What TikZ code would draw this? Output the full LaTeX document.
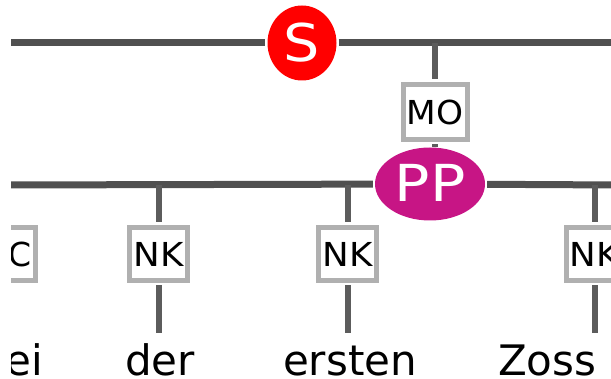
\documentclass[tikz,border=0pt]{standalone}
\usepackage{fontspec}
\usepackage{graphicx}
\setmainfont{DejaVu Sans}
\usetikzlibrary{shapes.geometric}
\definecolor{linegray}{RGB}{80,80,80}
\definecolor{conngray}{RGB}{92,92,92}
\definecolor{boxgray}{RGB}{176,176,176}
\definecolor{ppmag}{RGB}{199,21,133}
\begin{document}
\begin{tikzpicture}[x=1pt,y=-1pt,
  bar/.style={draw=linegray, line width=7pt},
  conn/.style={draw=conngray, line width=6pt},
  catS/.style={ellipse, fill=red, text=white, minimum width=69pt, minimum height=75pt, inner sep=0pt, font=\fontsize{52}{52}\selectfont},
  catPP/.style={ellipse, fill=ppmag, text=white, minimum width=110pt, minimum height=73pt, inner sep=0pt, font=\fontsize{51}{51}\selectfont},
  edgebox/.style={rectangle, draw=boxgray, line width=5pt, fill=white, minimum height=53pt, inner sep=0pt, font=\fontsize{33}{33}\selectfont},
  word/.style={inner sep=0pt, text height=32pt, text depth=3pt, font=\fontsize{42}{42}\selectfont}
]
\useasboundingbox (0,0) rectangle (611,379);
\clip (11,0) rectangle (611,379);

% category nodes
\node[catS] (S) at (302,43) {\raisebox{2pt}{\scalebox{1.1}[1]{S}}};
\node[edgebox, minimum width=64pt, minimum height=55pt] (MO) at (435,112) {\scalebox{1.04}[1]{MO}};
\node[catPP] (PP) at (430,184) {\raisebox{2pt}{\scalebox{1.15}[1]{PP}}};

% edge label boxes
\node[edgebox, minimum width=58pt, inner xsep=4pt, text width=50pt, align=right] (C) at (6.5,254) {C};
\node[edgebox, minimum width=58pt] (NK1) at (158.5,254) {\scalebox{1.08}[1]{NK}};
\node[edgebox, minimum width=58pt] (NK2) at (347.5,254) {\scalebox{1.08}[1]{NK}};
\node[edgebox, minimum width=58pt] (NK3) at (595,254) {\scalebox{1.08}[1]{NK}};

% words
\node[word, anchor=base east] (w0) at (43,376) {ei};
\node[word, anchor=base] (w1) at (160,376) {der};
\node[word, anchor=base] (w2) at (350,376) {ersten};
\node[word, anchor=base west] (w3) at (498,376) {Zoss};

% bar coordinates
\coordinate (l1) at (0,43);
\coordinate (r1) at (620,43);
\coordinate (j1) at (435,43);
\coordinate (l2) at (0,185);
\coordinate (r2) at (620,185);
\coordinate (j2) at (6.5,185);
\coordinate (j3) at (158.5,185);
\coordinate (j4) at (347.5,185);
\coordinate (j5) at (595,185);

% bars
\draw[bar, shorten >=2pt] (l1) -- (S);
\draw[bar, shorten <=2pt] (S) -- (r1);
\draw[bar, shorten >=2pt] (l2) -- (PP);
\draw[bar, shorten <=2pt] (PP) -- (r2);

% connectors
\draw[conn, shorten >=2.5pt] (j1) -- (MO);
\draw[conn, shorten <=2.5pt] (MO) -- (MO |- PP.north);
\draw[conn, shorten >=2.5pt] (j2) -- (C);
\draw[conn, shorten >=2.5pt] (j3) -- (NK1);
\draw[conn, shorten >=2.5pt] (j4) -- (NK2);
\draw[conn, shorten >=2.5pt] (j5) -- (NK3);
\draw[conn, shorten <=2.5pt, shorten >=11pt] (C) -- (C |- w0.north);
\draw[conn, shorten <=2.5pt, shorten >=11pt] (NK1) -- (NK1 |- w1.north);
\draw[conn, shorten <=2.5pt, shorten >=11pt] (NK2) -- (NK2 |- w2.north);
\draw[conn, shorten <=2.5pt, shorten >=11pt] (NK3) -- (NK3 |- w3.north);
\end{tikzpicture}
\end{document}
